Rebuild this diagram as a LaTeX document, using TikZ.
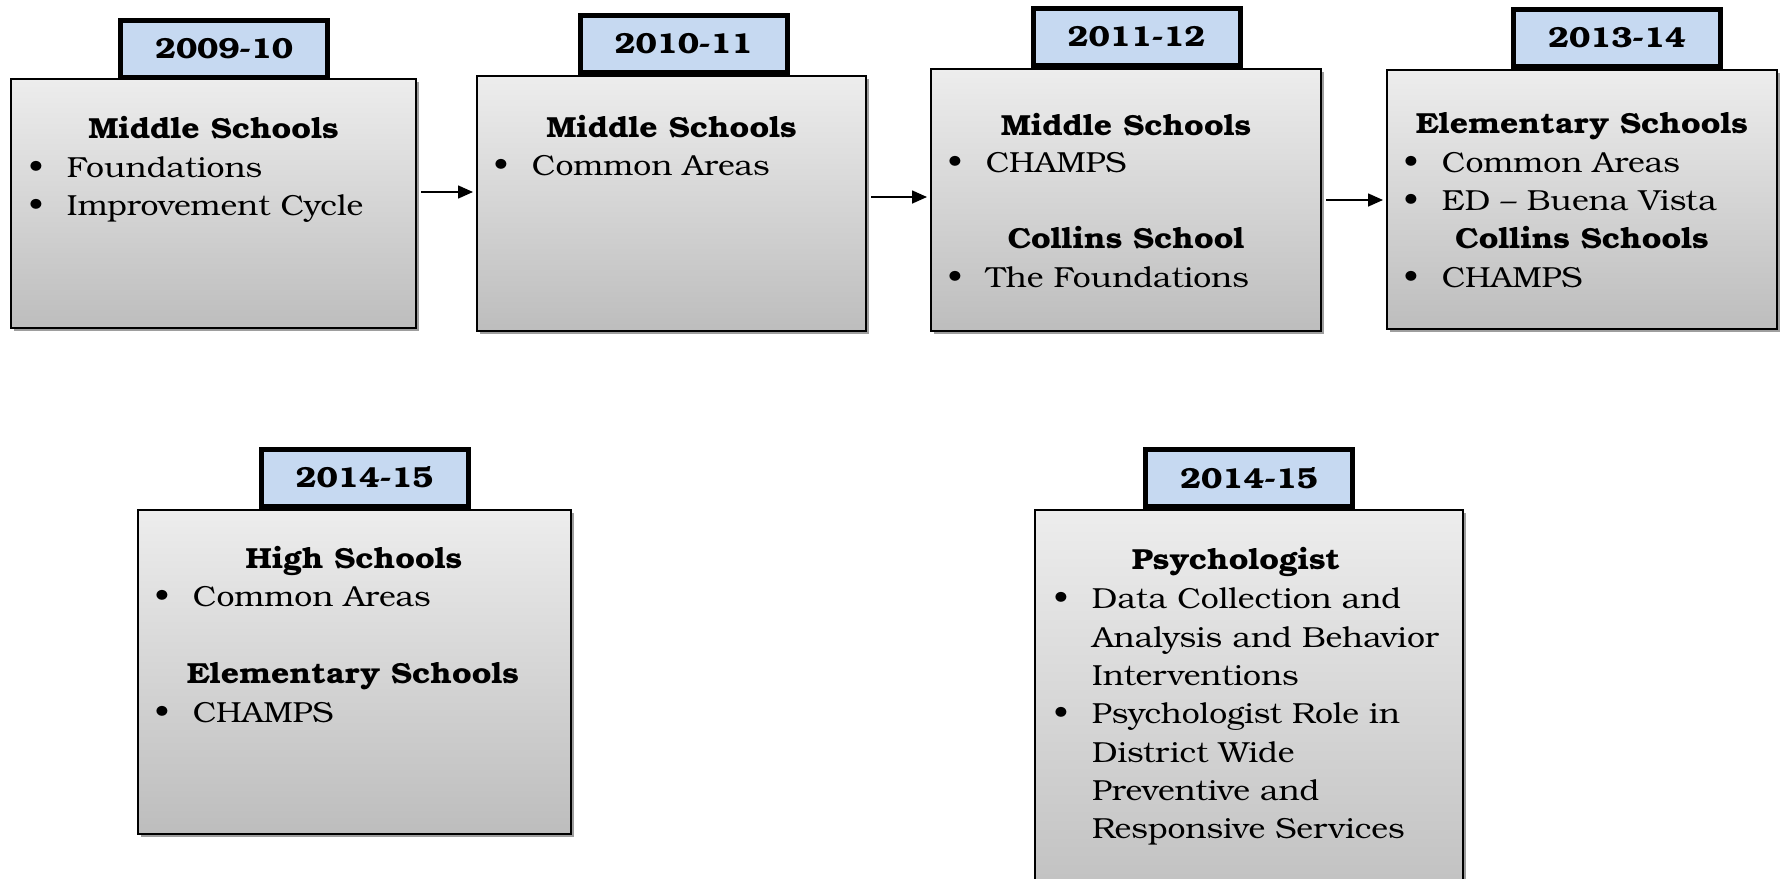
\documentclass[tikz,border=0pt]{standalone}
\usepackage{fontspec}
\setmainfont{texgyrebonum}[Extension=.otf, UprightFont=*-regular, BoldFont=*-bold, ItalicFont=*-italic, BoldItalicFont=*-bolditalic, FakeStretch=1.1]
\usetikzlibrary{shadows,arrows.meta}
\definecolor{tabblue}{HTML}{C6D9F1}
\definecolor{boxtop}{HTML}{EDEDED}
\definecolor{boxbot}{HTML}{BDBDBD}
\newcommand\bul{\llap{\makebox[62pt]{\textbullet}}}
\begin{document}
\begin{tikzpicture}[x=1pt,y=-1pt,
  every node/.style={inner sep=0pt, outer sep=0pt, font=\fontsize{29}{38}\selectfont},
  yearbox/.style={draw=black, line width=2pt, rectangle, anchor=north west,
     top color=boxtop, bottom color=boxbot,
     drop shadow={shadow xshift=3pt, shadow yshift=-3pt, fill=black!38, opacity=1}},
  yeartab/.style={draw=black, line width=5pt, fill=tabblue, rectangle,
     minimum width=207pt, minimum height=57pt, font=\fontsize{29}{36}\selectfont\bfseries},
  hd/.style={anchor=base, font=\fontsize{29}{38}\selectfont\bfseries},
  itm/.style={anchor=base west},
  arr/.style={line width=1.6pt, -{Triangle[length=15pt,width=13pt]}, shorten <=5pt, shorten >=4pt}]
\useasboundingbox (0,0) rectangle (1785,878);
% boxes
\node[yearbox, minimum width=405pt, minimum height=249pt] (b1) at (11,79) {};
\node[yearbox, minimum width=389pt, minimum height=255pt] (b2) at (477,76) {};
\node[yearbox, minimum width=390pt, minimum height=262pt] (b3) at (931,69) {};
\node[yearbox, minimum width=390pt, minimum height=259pt] (b4) at (1387,70) {};
\node[yearbox, minimum width=433pt, minimum height=324pt] (b5) at (138,510) {};
\node[yearbox, minimum width=428pt, minimum height=420pt] (b6) at (1035,510) {};
% tabs
\node[yeartab] (t1) at (224,49) {2009-10};
\node[yeartab] (t2) at (683.5,44) {2010-11};
\node[yeartab] (t3) at (1136.5,37) {2011-12};
\node[yeartab] (t4) at (1617,38) {2013-14};
\node[yeartab] (t5) at (364.5,477.5) {2014-15};
\node[yeartab] (t6) at (1249,478) {2014-15};
% arrow heights
\coordinate (a1) at (0,192);
\coordinate (a2) at (0,197);
\coordinate (a3) at (0,200);
% arrows
\draw[arr] (b1.east |- a1) -- (b2.west |- a1);
\draw[arr] (b2.east |- a2) -- (b3.west |- a2);
\draw[arr] (b3.east |- a3) -- (b4.west |- a3);
% box 1
\node[hd] (h1) at (213.5,138) {Middle Schools};
\node[itm] (i1a) at (67,177) {\bul Foundations};
\node[itm] (i1b) at (67,215) {\bul Improvement Cycle};
% box 2
\node[hd] (h2) at (671.5,137) {Middle Schools};
\node[itm] (i2a) at (532,175) {\bul Common Areas};
% box 3
\node[hd] (h3a) at (1126,135) {Middle Schools};
\node[itm] (i3a) at (986,172) {\bul CHAMPS};
\node[hd] (h3b) at (1126,248) {Collins School};
\node[itm] (i3b) at (986,287) {\bul The Foundations};
% box 4
\node[hd] (h4a) at (1582,133) {Elementary Schools};
\node[itm] (i4a) at (1442,172) {\bul Common Areas};
\node[itm] (i4b) at (1442,210) {\bul ED – Buena Vista};
\node[hd] (h4b) at (1582,248) {Collins Schools};
\node[itm] (i4c) at (1442,287) {\bul CHAMPS};
% box 5
\node[hd] (h5a) at (354,568) {High Schools};
\node[itm] (i5a) at (193,606) {\bul Common Areas};
\node[hd] (h5b) at (353,683) {Elementary Schools};
\node[itm] (i5b) at (193,722) {\bul CHAMPS};
% box 6
\node[hd] (h6) at (1236,569) {Psychologist};
\node[itm] (i6a) at (1092,608) {\bul Data Collection and};
\node[itm] (i6b) at (1092,647) {Analysis and Behavior};
\node[itm] (i6c) at (1092,685) {Interventions};
\node[itm] (i6d) at (1092,723) {\bul Psychologist Role in};
\node[itm] (i6e) at (1092,762) {District Wide};
\node[itm] (i6f) at (1092,800) {Preventive and};
\node[itm] (i6g) at (1092,838) {Responsive Services};
\end{tikzpicture}
\end{document}
